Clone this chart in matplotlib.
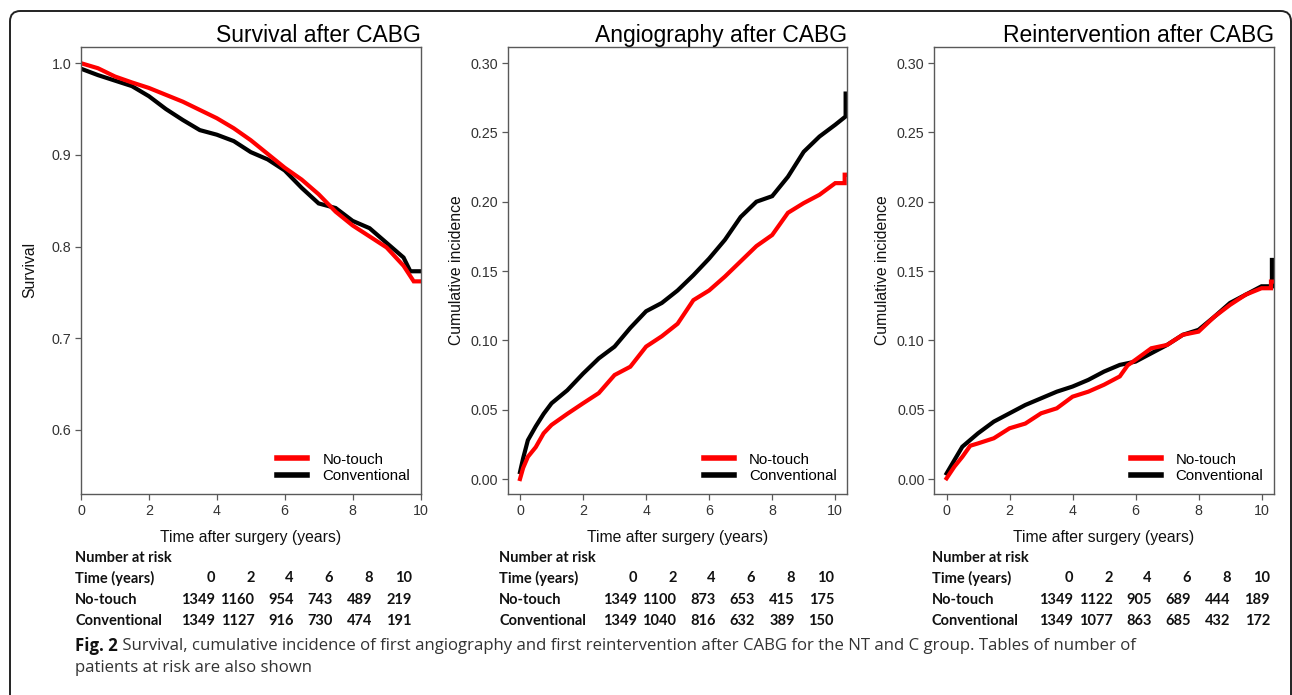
import matplotlib
matplotlib.use("Agg")
import matplotlib.pyplot as plt
from matplotlib.patches import FancyBboxPatch
from matplotlib.lines import Line2D

W, H = 1292, 695
plt.rcParams.update({"font.family": ["Liberation Sans", "DejaVu Sans"]})
RED, BLACK, GREY = "#ff0000", "#000000", "#595959"

# ---- data ----------------------------------------------------------------
surv_t_nt = [0, 0.5, 1, 1.5, 2, 2.5, 3, 3.5, 4, 4.5, 5, 5.5, 6, 6.5, 7, 7.5, 8,
             8.5, 9, 9.5, 9.8, 10]
surv_nt = [1.0, 0.9945, 0.9855, 0.979, 0.973, 0.9655, 0.958, 0.949, 0.940,
           0.929, 0.916, 0.901, 0.886, 0.873, 0.857, 0.838, 0.823, 0.811,
           0.799, 0.779, 0.762, 0.762]
surv_t_c = [0, 0.5, 1, 1.5, 2, 2.5, 3, 3.5, 4, 4.5, 5, 5.5, 6, 6.5, 7, 7.5, 8,
            8.5, 9, 9.5, 9.7, 10]
surv_c = [0.994, 0.987, 0.981, 0.975, 0.964, 0.950, 0.938, 0.927, 0.922,
          0.915, 0.903, 0.895, 0.883, 0.864, 0.847, 0.842, 0.828, 0.820,
          0.804, 0.788, 0.773, 0.773]

angio_t_nt = [0, 0.1, 0.25, 0.5, 0.75, 1, 1.5, 2, 2.5, 3, 3.5, 4, 4.5, 5, 5.5,
              6, 6.5, 7, 7.5, 8, 8.5, 9, 9.5, 10, 10.3, 10.3, 10.38]
angio_nt = [0.0, 0.008, 0.016, 0.023, 0.033, 0.039, 0.047, 0.0546, 0.062,
            0.075, 0.081, 0.0955, 0.103, 0.112, 0.129, 0.136, 0.146, 0.157,
            0.168, 0.176, 0.192, 0.199, 0.205, 0.2134, 0.2134, 0.2195, 0.2195]
angio_t_c = [0, 0.1, 0.25, 0.5, 0.75, 1, 1.5, 2, 2.5, 3, 3.5, 4, 4.5, 5, 5.5,
             6, 6.5, 7, 7.5, 8, 8.5, 9, 9.5, 10, 10.33, 10.33]
angio_c = [0.005, 0.015, 0.028, 0.038, 0.047, 0.0546, 0.064, 0.076, 0.087,
           0.0955, 0.109, 0.121, 0.127, 0.136, 0.147, 0.159, 0.1725, 0.189,
           0.200, 0.204, 0.218, 0.236, 0.247, 0.2555, 0.2615, 0.278]

reint_t_nt = [0, 0.25, 0.5, 0.75, 1, 1.5, 2, 2.5, 3, 3.5, 4, 4.5, 5, 5.5,
              5.75, 6, 6.5, 7, 7.5, 8, 8.5, 9, 9.5, 10, 10.3, 10.3, 10.38]
reint_nt = [0.0005, 0.009, 0.016, 0.024, 0.0257, 0.0294, 0.0366, 0.040,
            0.0474, 0.051, 0.0594, 0.063, 0.068, 0.074, 0.082, 0.086, 0.0943,
            0.0967, 0.104, 0.1063, 0.117, 0.1256, 0.133, 0.1376, 0.1376,
            0.1424, 0.1424]
reint_t_c = [0, 0.25, 0.5, 1, 1.5, 2, 2.5, 3, 3.5, 4, 4.5, 5, 5.5, 6, 6.5, 7,
             7.5, 8, 8.5, 9, 9.5, 10, 10.33, 10.33]
reint_c = [0.004, 0.0137, 0.0233, 0.033, 0.0414, 0.0474, 0.0534, 0.0582,
           0.063, 0.0667, 0.0715, 0.0775, 0.0823, 0.0847, 0.0907, 0.0967,
           0.104, 0.1076, 0.117, 0.127, 0.133, 0.139, 0.139, 0.158]

risk_times = ["0", "2", "4", "6", "8", "10"]
surv_risk_nt = [1349, 1160, 954, 743, 489, 219]
surv_risk_c = [1349, 1127, 916, 730, 474, 191]
angio_risk_nt = [1349, 1100, 873, 653, 415, 175]
angio_risk_c = [1349, 1040, 816, 632, 389, 150]
reint_risk_nt = [1349, 1122, 905, 689, 444, 189]
reint_risk_c = [1349, 1077, 863, 685, 432, 172]

titles = ["Survival after CABG", "Angiography after CABG", "Reintervention after CABG"]
ylabels = ["Survival", "Cumulative incidence", "Cumulative incidence"]
caption_bold = "Fig. 2"
caption_1 = (" Survival, cumulative incidence of first angiography and first "
             "reintervention after CABG for the NT and C group. Tables of number of")
caption_2 = "patients at risk are also shown"

# ---- layout -----------------------------------------------------------------
fig = plt.figure(figsize=(W / 100, H / 100), dpi=100)


def fx(px):
    return px / W


def fy(py):
    return 1 - py / H


border = FancyBboxPatch((fx(10), fy(760)), fx(1281), (760 - 11) / H,
                        boxstyle="round,pad=0,rounding_size=0.008",
                        mutation_aspect=W / H, transform=fig.transFigure,
                        fc="none", ec="#222", lw=1.4, clip_on=False)
fig.patches.append(border)

panels = [
    dict(left=81, xlim=(0, 10), ylim=(0.530, 1.018), yticks=[0.6, 0.7, 0.8, 0.9, 1.0],
         fmt="{:.1f}", lines=[(surv_t_c, surv_c, BLACK), (surv_t_nt, surv_nt, RED)],
         risk=(surv_risk_nt, surv_risk_c), tab=(75, 215)),
    dict(left=507.7, xlim=(-0.39, 10.38), ylim=(-0.0108, 0.3118),
         yticks=[0, 0.05, 0.10, 0.15, 0.20, 0.25, 0.30], fmt="{:.2f}",
         lines=[(angio_t_c, angio_c, BLACK), (angio_t_nt, angio_nt, RED)],
         risk=(angio_risk_nt, angio_risk_c), tab=(499, 637)),
    dict(left=934.3, xlim=(-0.39, 10.39), ylim=(-0.0108, 0.3118),
         yticks=[0, 0.05, 0.10, 0.15, 0.20, 0.25, 0.30], fmt="{:.2f}",
         lines=[(reint_t_c, reint_c, BLACK), (reint_t_nt, reint_nt, RED)],
         risk=(reint_risk_nt, reint_risk_c), tab=(932, 1073)),
]

TAB = dict(family=["Lato", "DejaVu Sans"], fontweight="bold", fontsize=10.5,
           color="#111", va="center")
for i, p in enumerate(panels):
    ax = fig.add_axes([fx(p["left"]), fy(494), fx(339.5), 447.3 / H])
    for t, v, c in p["lines"]:
        ax.plot(t, v, color=c, lw=3.0, solid_joinstyle="miter")
    ax.set_xlim(*p["xlim"]); ax.set_ylim(*p["ylim"])
    ax.set_xticks([0, 2, 4, 6, 8, 10])
    ax.set_yticks(p["yticks"])
    ax.set_yticklabels([p["fmt"].format(v) for v in p["yticks"]])
    for s in ax.spines.values():
        s.set_color(GREY); s.set_linewidth(1.0)
    ax.tick_params(direction="out", length=4, width=0.9, color=GREY,
                   labelcolor="#333", labelsize=10.3, pad=3)
    ax.set_title(titles[i], loc="right", fontsize=16.5, pad=1)
    ax.set_ylabel(ylabels[i], fontsize=11.3, color="#111")
    ax.yaxis.set_label_coords(-0.13, 0.5)
    ax.set_xlabel("Time after surgery (years)", fontsize=11.3, color="#111", labelpad=9)
    handles = [Line2D([], [], color=RED, lw=4), Line2D([], [], color=BLACK, lw=4)]
    ax.legend(handles, ["No-touch", "Conventional"], loc="lower right",
              frameon=False, fontsize=10.8, handlelength=2.0, handletextpad=1.0,
              labelspacing=0.2, borderaxespad=0.3, bbox_to_anchor=(1.0, 0.0))

    # number-at-risk table
    lx, cx = p["tab"]
    fig.text(fx(lx), fy(557.5), "Number at risk", **TAB)
    rows = [("Time (years)", risk_times), ("No-touch", p["risk"][0]),
            ("Conventional", p["risk"][1])]
    for r, (lab, vals) in enumerate(rows):
        y = fy(578.5 + 21.3 * r)
        fig.text(fx(lx), y, lab, **TAB)
        for k, v in enumerate(vals):
            fig.text(fx(cx + 39.4 * k), y, str(v), ha="right", **TAB)

cap = dict(family=["Open Sans", "DejaVu Sans"], fontsize=12.1, va="center")
t0 = fig.text(fx(75), fy(646), caption_bold, fontweight="bold", color="#111", **cap)
fig.canvas.draw()
bb = t0.get_window_extent()
fig.text(bb.x1 / W, fy(646), caption_1, color="#333", **cap)
fig.text(fx(75), fy(668), caption_2, color="#333", **cap)

fig.savefig("out.png", dpi=100)
